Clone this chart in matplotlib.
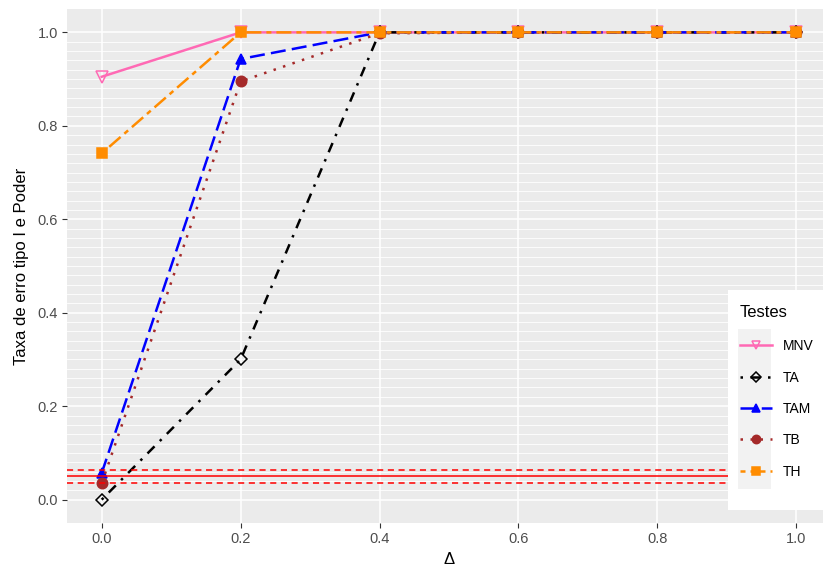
import matplotlib
matplotlib.use("Agg")
import matplotlib.pyplot as plt
from matplotlib.patches import Rectangle
import numpy as np

plt.rcParams['font.family'] = ['Liberation Sans', 'DejaVu Sans']

delta = [0.0, 0.2, 0.4, 0.6, 0.8, 1.0]
series_names = ["MNV", "TA", "TAM", "TB", "TH"]
mnv = [0.905, 1.0, 1.0, 1.0, 1.0, 1.0]
ta = [0.0, 0.30, 1.0, 1.0, 1.0, 1.0]
tam = [0.057, 0.943, 1.0, 1.0, 1.0, 1.0]
tb = [0.035, 0.895, 0.998, 1.0, 1.0, 1.0]
th = [0.741, 1.0, 1.0, 1.0, 1.0, 1.0]
alpha_nominal = 0.05
alpha_lower = 0.0365
alpha_upper = 0.0635
y_ticks = [0.0, 0.2, 0.4, 0.6, 0.8, 1.0]
x_ticks = [0.0, 0.2, 0.4, 0.6, 0.8, 1.0]

W, H = 823, 574
fig = plt.figure(figsize=(W / 100, H / 100), dpi=100)
fig.patch.set_facecolor('white')

# panel pixel bounds
px_l, px_r, px_t, px_b = 67, 831, 9, 523
ax = fig.add_axes([px_l / W, 1 - px_b / H, (px_r - px_l) / W, (px_b - px_t) / H])
ax.set_facecolor('#EBEBEB')
ax.set_xlim(-0.05, 1.05)
ax.set_ylim(-0.05, 1.05)
for s in ax.spines.values():
    s.set_visible(False)

# grid
for yv in np.arange(0, 1.0001, 0.02):
    major = any(abs(yv - t) < 1e-9 for t in y_ticks)
    ax.axhline(yv, color='white', lw=1.1 if major else 0.6, zorder=0.5)
for xv in x_ticks:
    ax.axvline(xv, color='white', lw=1.1, zorder=0.5)

ax.set_xticks(x_ticks)
ax.set_xticklabels([f"{v:.1f}" for v in x_ticks])
ax.set_yticks(y_ticks)
ax.set_yticklabels([f"{v:.1f}" for v in y_ticks])
ax.tick_params(axis='both', colors='#333333', length=3.5, width=0.8,
               labelcolor='#4D4D4D', labelsize=10.5, pad=3)

styles = {
    "MNV": dict(color='#FF69B4', dashes=None, marker='v', mfc='none', ms=8),
    "TA": dict(color='black', dashes=(1, 3, 4, 3), marker='D', mfc='none', ms=6.5),
    "TAM": dict(color='#0000FF', dashes=(6, 2.5), marker='^', mfc='#0000FF', ms=7.5),
    "TB": dict(color='#A52A2A', dashes=(1, 3), marker='o', mfc='#A52A2A', ms=7.5),
    "TH": dict(color='#FF8C00', dashes=(2, 2, 6, 2), marker='s', mfc='#FF8C00', ms=6.5),
}
data = {"MNV": mnv, "TA": ta, "TAM": tam, "TB": tb, "TH": th}

handles = []
for i, name in enumerate(series_names):
    st = styles[name]
    kw = dict(color=st['color'], lw=1.8, marker=st['marker'], markersize=st['ms'],
              markerfacecolor=st['mfc'], markeredgecolor=st['color'],
              markeredgewidth=1.1, zorder=2 + i)
    if st['dashes'] is not None:
        kw['dashes'] = st['dashes']
    ln, = ax.plot(delta, data[name], label=name, **kw)
    handles.append(ln)

ax.axhline(alpha_nominal, color='#FF0000', lw=1.1, zorder=10)
ax.axhline(alpha_lower, color='#FF0000', lw=1.1, dashes=(4, 3), zorder=10)
ax.axhline(alpha_upper, color='#FF0000', lw=1.1, dashes=(4, 3), zorder=10)

ax.set_xlabel("Δ", fontsize=12, color='black', labelpad=4)
ax.set_ylabel("Taxa de erro tipo I e Poder", fontsize=12, color='black', labelpad=6)

# legend background and key column
fig.patches.append(Rectangle((728 / W, 1 - 510 / H), (W - 728) / W, 220 / H,
                             transform=fig.transFigure, facecolor='white',
                             edgecolor='none', zorder=20))
fig.patches.append(Rectangle((738 / W, 1 - 489 / H), 33 / W, 160 / H,
                             transform=fig.transFigure, facecolor='#F2F2F2',
                             edgecolor='none', zorder=21))

leg = fig.legend(handles=handles, labels=series_names, title="Testes",
                 loc='upper left', bbox_to_anchor=(737 / W, 1 - 302 / H),
                 frameon=False, fontsize=10, title_fontsize=12,
                 handlelength=2.3, handletextpad=0.8, labelspacing=1.25,
                 borderaxespad=0, borderpad=0.2, alignment='left',
                 markerscale=0.8)
leg.set_zorder(30)
leg._legend_box.sep = 14

fig.savefig("out.png", dpi=100)
